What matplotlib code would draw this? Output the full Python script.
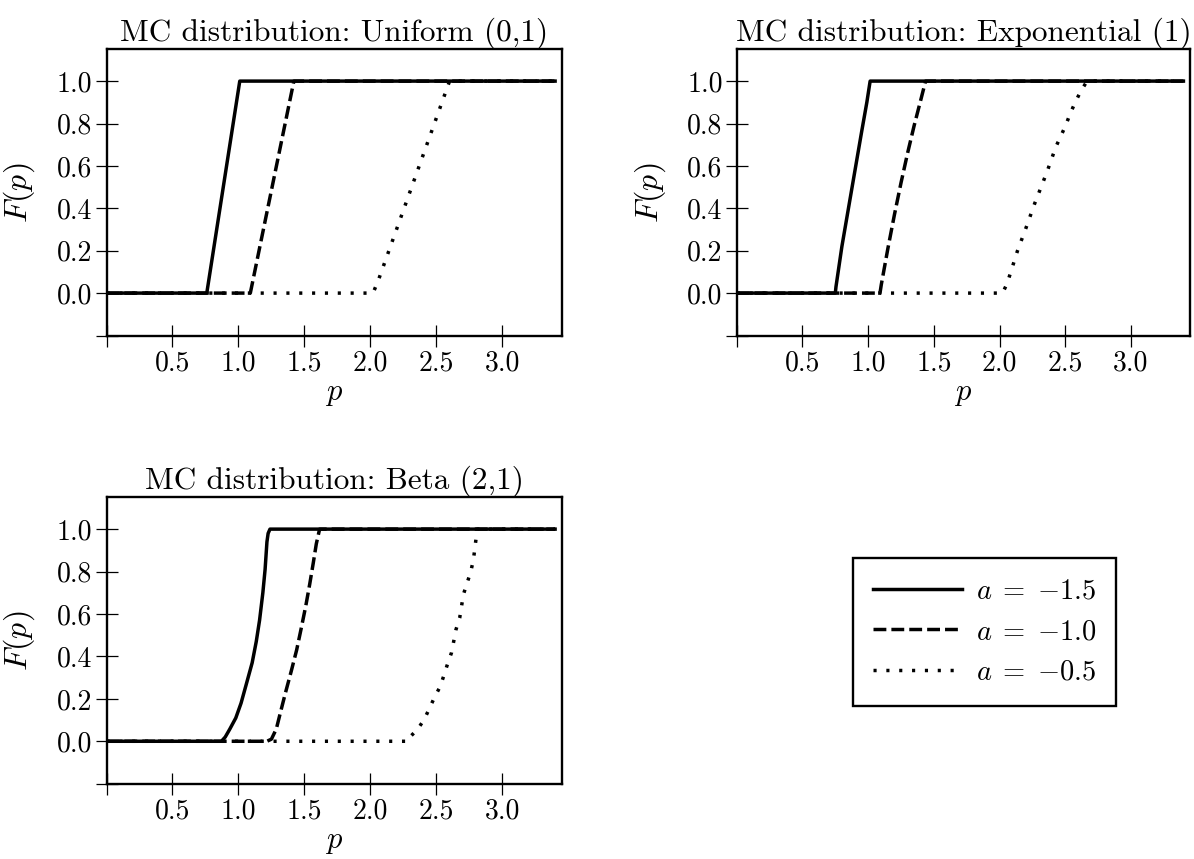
import numpy as np
import matplotlib
matplotlib.use("Agg")
import matplotlib.pyplot as plt

# --- data (p, F(p)) ---
# Uniform (0,1)
unif_p_15 = [0.0, 0.76, 1.01, 3.40]
unif_F_15 = [0.0, 0.0, 1.0, 1.0]
unif_p_10 = [0.0, 1.09, 1.42, 3.40]
unif_F_10 = [0.0, 0.0, 1.0, 1.0]
unif_p_05 = [0.0, 2.02, 2.06, 2.60, 3.40]
unif_F_05 = [0.0, 0.0, 0.06, 1.0, 1.0]

# Exponential (1)
expo_p_15 = [0.0, 0.75, 0.755, 0.80, 0.85, 0.90, 0.95, 0.99, 1.015, 3.40]
expo_F_15 = [0.0, 0.0, 0.03, 0.22, 0.40, 0.58, 0.76, 0.90, 1.0, 1.0]
expo_p_10 = [0.0, 1.09, 1.10, 1.15, 1.20, 1.25, 1.30, 1.35, 1.40, 1.437, 3.40]
expo_F_10 = [0.0, 0.0, 0.04, 0.21, 0.37, 0.52, 0.66, 0.79, 0.91, 1.0, 1.0]
expo_p_05 = [0.0, 2.023, 2.057, 2.086, 2.137, 2.203, 2.266, 2.329, 2.366,
             2.429, 2.466, 2.503, 2.537, 2.574, 2.614, 2.666, 3.40]
expo_F_05 = [0.0, 0.0, 0.044, 0.10, 0.20, 0.31, 0.42, 0.52, 0.58,
             0.69, 0.74, 0.79, 0.845, 0.897, 0.947, 1.0, 1.0]

# Beta (2,1)
beta_p_15 = [0.0, 0.871, 0.90, 0.935, 0.98, 1.02, 1.06, 1.104, 1.135, 1.16,
             1.185, 1.202, 1.216, 1.225, 1.239, 3.40]
beta_F_15 = [0.0, 0.0, 0.02, 0.058, 0.11, 0.18, 0.27, 0.37, 0.47, 0.57,
             0.70, 0.81, 0.94, 0.98, 1.0, 1.0]
beta_p_10 = [0.0, 1.216, 1.25, 1.287, 1.32, 1.357, 1.40, 1.441, 1.475, 1.511,
             1.54, 1.567, 1.59, 1.615, 3.40]
beta_F_10 = [0.0, 0.0, 0.01, 0.058, 0.14, 0.23, 0.33, 0.43, 0.53, 0.64,
             0.74, 0.84, 0.93, 1.0, 1.0]
beta_p_05 = [0.0, 2.284, 2.298, 2.36, 2.41, 2.486, 2.528, 2.556, 2.584, 2.615,
             2.649, 2.677, 2.705, 2.733, 2.761, 2.781, 2.803, 2.81, 3.40]
beta_F_05 = [0.0, 0.0, 0.019, 0.058, 0.105, 0.207, 0.257, 0.308, 0.363, 0.418,
             0.527, 0.582, 0.692, 0.746, 0.80, 0.856, 0.966, 1.0, 1.0]

titles = ["MC distribution: Uniform (0,1)",
          "MC distribution: Exponential (1)",
          "MC distribution: Beta (2,1)"]
labels = [r"$a\;=\;{-1.5}$", r"$a\;=\;{-1.0}$", r"$a\;=\;{-0.5}$"]
xticks = [0.0, 0.5, 1.0, 1.5, 2.0, 2.5, 3.0]
xticklabels = ["", "0.5", "1.0", "1.5", "2.0", "2.5", "3.0"]
yticks = [-0.2, 0.0, 0.2, 0.4, 0.6, 0.8, 1.0]
yticklabels = ["", "0.0", "0.2", "0.4", "0.6", "0.8", "1.0"]

plt.rcParams["font.family"] = "cmr10"
plt.rcParams["mathtext.fontset"] = "cm"
plt.rcParams["axes.formatter.use_mathtext"] = True

FS = 20
LW = 2.5
styles = [dict(ls="-"), dict(ls=(0, (3.7, 1.45))), dict(ls=(0, (0.9, 2.8)))]

fig = plt.figure(figsize=(11.94, 8.59), dpi=100)
W, H = 1194, 859
# axes boxes in pixels: left, top, right, bottom
boxes = [(106.5, 49.3, 561.7, 335.5),
         (736.8, 49.3, 1190.0, 335.5),
         (106.5, 497.3, 561.7, 783.7)]

curves = [
    [(unif_p_15, unif_F_15), (unif_p_10, unif_F_10), (unif_p_05, unif_F_05)],
    [(expo_p_15, expo_F_15), (expo_p_10, expo_F_10), (expo_p_05, expo_F_05)],
    [(beta_p_15, beta_F_15), (beta_p_10, beta_F_10), (beta_p_05, beta_F_05)],
]

handles = []
for (l, t, r, b), title, panel in zip(boxes, titles, curves):
    ax = fig.add_axes([l / W, 1 - b / H, (r - l) / W, (b - t) / H])
    hs = []
    for (p, F), st, lab in zip(panel, styles, labels):
        h, = ax.plot(p, F, color="black", lw=LW, label=lab, **st)
        hs.append(h)
    handles = hs
    ax.set_xlim(0, 3.45)
    ax.set_ylim(-0.2, 1.15)
    ax.set_xticks(xticks)
    ax.set_xticklabels(xticklabels)
    ax.set_yticks(yticks)
    ax.set_yticklabels(yticklabels)
    ax.tick_params(direction="inout", length=15.5, width=0.9, labelsize=FS, pad=2.5)
    for s in ax.spines.values():
        s.set_linewidth(1.7)
    ax.set_title(title, fontsize=22.5, pad=4.5)
    ax.set_xlabel(r"$p$", fontsize=22, labelpad=3)
    ax.set_ylabel(r"$F(p)$", fontsize=23, labelpad=14)

leg = fig.legend(handles, labels, loc="center",
                 bbox_to_anchor=(984.5 / W, 1 - 632 / H),
                 fontsize=20.5, handlelength=3.15, handletextpad=0.47,
                 fancybox=False, edgecolor="black", framealpha=1,
                 borderpad=0.7, labelspacing=0.5)
leg.get_frame().set_linewidth(1.7)

fig.savefig("out.png", dpi=100)
